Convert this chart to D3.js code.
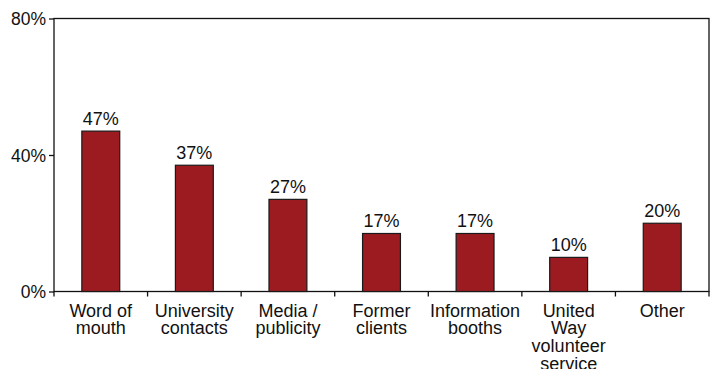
<!DOCTYPE html>
<html>
<head>
<meta charset="utf-8">
<script src="https://cdn.jsdelivr.net/npm/d3@7"></script>
<style>
  html, body { margin: 0; padding: 0; background: #fff; }
  svg text { font-family: "Liberation Sans", Arial, sans-serif; fill: #111; }
</style>
</head>
<body>
<svg id="chart" width="717" height="369"></svg>
<script>
// How clients heard about the service (percent of respondents)
const categories = [
  ["Word of", "mouth"],
  ["University", "contacts"],
  ["Media /", "publicity"],
  ["Former", "clients"],
  ["Information", "booths"],
  ["United", "Way", "volunteer", "service"],
  ["Other"]
];
const values = [47, 37, 27, 17, 17, 10, 20];
const yTicks = [0, 40, 80];

const svg = d3.select("#chart");
const margin = { left: 54, right: 8, top: 18.5, bottom: 77.5 };
const W = 717, H = 369;
const x0 = margin.left, x1 = W - margin.right;
const y0 = H - margin.bottom, y1 = margin.top;
const fontSize = 18;

const x = d3.scaleBand()
  .domain(d3.range(categories.length))
  .range([x0, x1])
  .paddingInner(0).paddingOuter(0);
const y = d3.scaleLinear().domain([0, 80]).range([y0, y1]);

// Plot frame
svg.append("rect")
  .attr("x", x0).attr("y", y1)
  .attr("width", x1 - x0).attr("height", y0 - y1)
  .attr("fill", "none").attr("stroke", "#111").attr("stroke-width", 1.3);

// Y axis
const yAxis = svg.append("g")
  .attr("transform", `translate(${x0},0)`)
  .call(d3.axisLeft(y).tickValues(yTicks).tickFormat(d => d + "%").tickSize(5).tickPadding(3));
yAxis.select(".domain").remove();
yAxis.selectAll("line").attr("stroke", "#111").attr("stroke-width", 1.3);
yAxis.selectAll("text").attr("font-size", 17.5).attr("fill", "#111").attr("dy", "0.35em")
  .style("font-family", "'Liberation Sans', Arial, sans-serif");

// X axis: ticks at category boundaries
const boundaries = d3.range(categories.length + 1).map(i => x0 + i * x.bandwidth());
svg.append("g").selectAll("line")
  .data(boundaries)
  .join("line")
  .attr("x1", d => d).attr("x2", d => d)
  .attr("y1", y0).attr("y2", y0 + 5)
  .attr("stroke", "#111").attr("stroke-width", 1.3);

// Bars
const barW = x.bandwidth() * 0.405;
svg.append("g").selectAll("rect")
  .data(values)
  .join("rect")
  .attr("x", (d, i) => x(i) + x.bandwidth() / 2 - barW / 2)
  .attr("y", d => y(d))
  .attr("width", barW)
  .attr("height", d => y0 - y(d))
  .attr("fill", "#9b1b21")
  .attr("stroke", "#1a1a1a")
  .attr("stroke-width", 1.2);

// Value labels
svg.append("g").selectAll("text")
  .data(values)
  .join("text")
  .attr("x", (d, i) => x(i) + x.bandwidth() / 2)
  .attr("y", d => y(d) - 6.5)
  .attr("text-anchor", "middle")
  .attr("font-size", fontSize)
  .text(d => d + "%");

// Category labels
const cat = svg.append("g").selectAll("text")
  .data(categories)
  .join("text")
  .attr("x", (d, i) => x(i) + x.bandwidth() / 2)
  .attr("y", y0 + 25)
  .attr("text-anchor", "middle")
  .attr("font-size", fontSize);
cat.selectAll("tspan")
  .data(d => d)
  .join("tspan")
  .attr("x", function () { return d3.select(this.parentNode).attr("x"); })
  .attr("dy", (d, i) => i === 0 ? 0 : 17.8)
  .text(d => d);
</script>
</body>
</html>
